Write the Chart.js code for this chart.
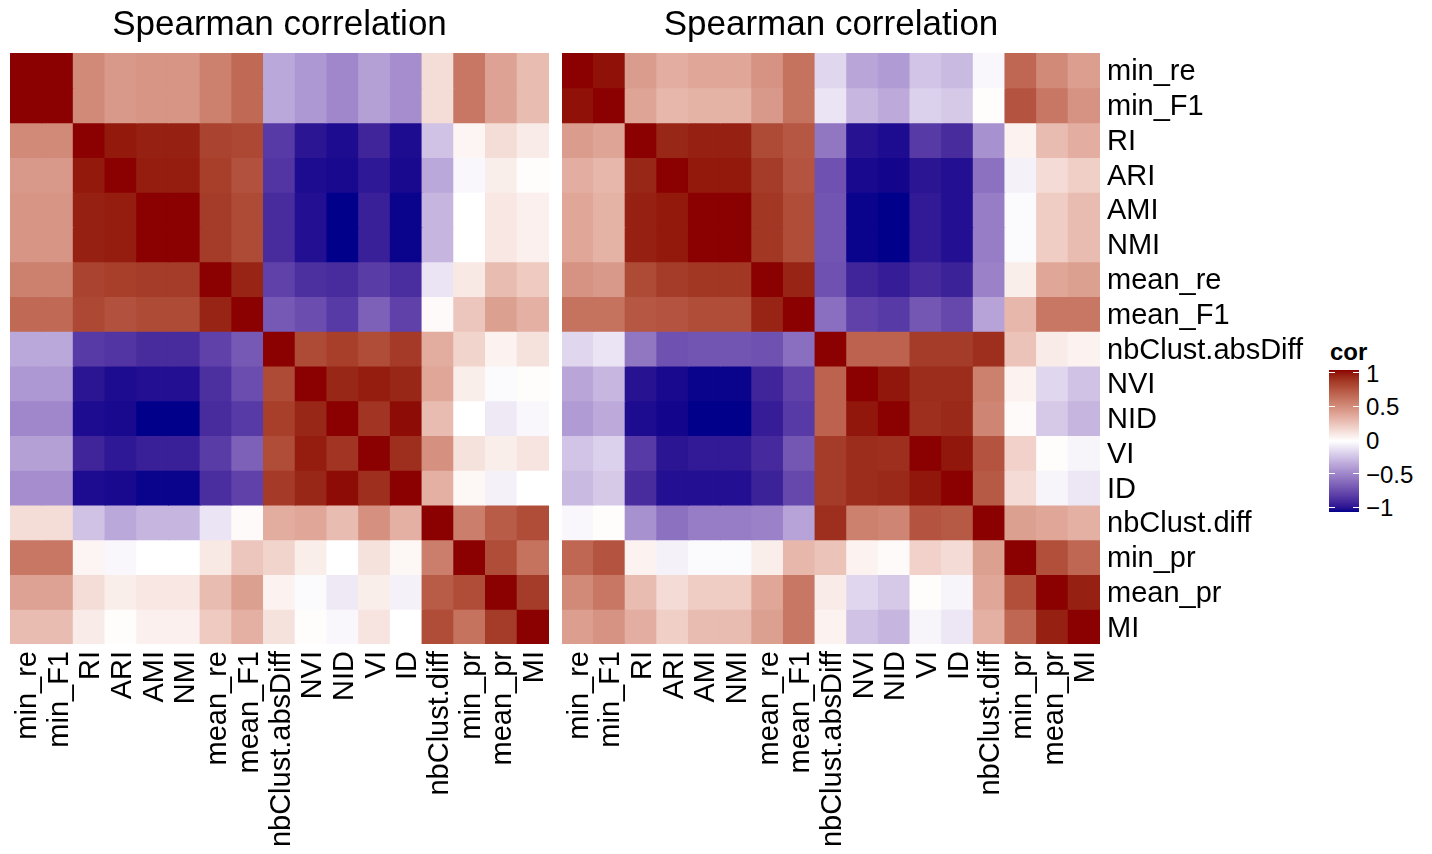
<!DOCTYPE html>
<html>
<head>
<meta charset="utf-8">
<script src="https://cdn.jsdelivr.net/npm/chart.js@4.4.1/dist/chart.umd.min.js"></script>
<style>
  body { margin: 0; background: #fff; }
  #page { position: relative; width: 1432px; height: 854px; overflow: hidden; font-family: "Liberation Sans", Arial, sans-serif; }
  #leftChart { position: absolute; left: 0; top: 0; }
  #rightChart { position: absolute; left: 556px; top: 0; }
  .leg { position: absolute; line-height: 1; color: #000; white-space: nowrap; }
</style>
</head>
<body>
<div id="page">
  <canvas id="leftChart" width="556" height="854"></canvas>
  <canvas id="rightChart" width="770" height="854"></canvas>
  <div id="legend"></div>
</div>
<script>
const labels = ['min_re', 'min_F1', 'RI', 'ARI', 'AMI', 'NMI', 'mean_re', 'mean_F1', 'nbClust.absDiff',
  'NVI', 'NID', 'VI', 'ID', 'nbClust.diff', 'min_pr', 'mean_pr', 'MI'];

// left panel (rows top to bottom, same order as labels)
const corLeft = [
  [1, 1, 0.50, 0.43, 0.45, 0.45, 0.54, 0.64, -0.33, -0.39, -0.46, -0.36, -0.43, 0.14, 0.58, 0.39, 0.28],
  [1, 1, 0.50, 0.43, 0.45, 0.45, 0.54, 0.64, -0.33, -0.39, -0.46, -0.36, -0.43, 0.14, 0.58, 0.39, 0.28],
  [0.50, 0.50, 1, 0.95, 0.93, 0.93, 0.80, 0.78, -0.78, -0.93, -0.96, -0.87, -0.96, -0.23, 0.04, 0.14, 0.08],
  [0.43, 0.43, 0.95, 1, 0.94, 0.94, 0.82, 0.74, -0.80, -0.96, -0.97, -0.92, -0.97, -0.33, -0.03, 0.07, 0.01],
  [0.45, 0.45, 0.93, 0.94, 1, 1, 0.83, 0.77, -0.84, -0.95, -1, -0.89, -0.99, -0.28, 0.00, 0.10, 0.06],
  [0.45, 0.45, 0.93, 0.94, 1, 1, 0.83, 0.77, -0.84, -0.95, -1, -0.89, -0.99, -0.28, 0.00, 0.10, 0.06],
  [0.54, 0.54, 0.80, 0.82, 0.83, 0.83, 1, 0.92, -0.75, -0.82, -0.84, -0.77, -0.83, -0.10, 0.09, 0.28, 0.22],
  [0.64, 0.64, 0.78, 0.74, 0.77, 0.77, 0.92, 1, -0.65, -0.70, -0.78, -0.62, -0.75, 0.02, 0.24, 0.40, 0.33],
  [-0.33, -0.33, -0.78, -0.80, -0.84, -0.84, -0.75, -0.65, 1, 0.77, 0.82, 0.76, 0.84, 0.35, 0.18, 0.05, 0.12],
  [-0.39, -0.39, -0.93, -0.96, -0.95, -0.95, -0.82, -0.70, 0.77, 1, 0.91, 0.94, 0.91, 0.37, 0.07, -0.02, 0.01],
  [-0.46, -0.46, -0.96, -0.97, -1, -1, -0.84, -0.78, 0.82, 0.91, 1, 0.86, 0.98, 0.28, 0.00, -0.08, -0.03],
  [-0.36, -0.36, -0.87, -0.92, -0.89, -0.89, -0.77, -0.62, 0.76, 0.94, 0.86, 1, 0.88, 0.47, 0.12, 0.07, 0.11],
  [-0.43, -0.43, -0.96, -0.97, -0.99, -0.99, -0.83, -0.75, 0.84, 0.91, 0.98, 0.88, 1, 0.33, 0.03, -0.05, 0.00],
  [0.14, 0.14, -0.23, -0.33, -0.28, -0.28, -0.10, 0.02, 0.35, 0.37, 0.28, 0.47, 0.33, 1, 0.55, 0.70, 0.76],
  [0.58, 0.58, 0.04, -0.03, 0.00, 0.00, 0.09, 0.24, 0.18, 0.07, 0.00, 0.12, 0.03, 0.55, 1, 0.76, 0.60],
  [0.39, 0.39, 0.14, 0.07, 0.10, 0.10, 0.28, 0.40, 0.05, -0.02, -0.08, 0.07, -0.05, 0.70, 0.76, 1, 0.83],
  [0.28, 0.28, 0.08, 0.01, 0.06, 0.06, 0.22, 0.33, 0.12, 0.01, -0.03, 0.11, 0.00, 0.76, 0.60, 0.83, 1]
];

// right panel
const corRight = [
  [1, 0.97, 0.42, 0.34, 0.37, 0.37, 0.46, 0.60, -0.15, -0.34, -0.38, -0.22, -0.26, -0.03, 0.65, 0.50, 0.41],
  [0.97, 1, 0.38, 0.30, 0.32, 0.32, 0.43, 0.60, -0.10, -0.27, -0.32, -0.17, -0.20, 0.01, 0.73, 0.58, 0.46],
  [0.42, 0.38, 1, 0.91, 0.93, 0.93, 0.77, 0.72, -0.53, -0.94, -0.96, -0.78, -0.84, -0.42, 0.05, 0.28, 0.34],
  [0.34, 0.30, 0.91, 1, 0.95, 0.95, 0.83, 0.73, -0.68, -0.97, -0.98, -0.93, -0.95, -0.55, -0.05, 0.15, 0.20],
  [0.37, 0.32, 0.93, 0.95, 1, 1, 0.85, 0.76, -0.67, -0.99, -1, -0.91, -0.95, -0.50, -0.02, 0.21, 0.28],
  [0.37, 0.32, 0.93, 0.95, 1, 1, 0.85, 0.76, -0.67, -0.99, -1, -0.91, -0.95, -0.50, -0.02, 0.21, 0.28],
  [0.46, 0.43, 0.77, 0.83, 0.85, 0.85, 1, 0.92, -0.68, -0.87, -0.90, -0.85, -0.88, -0.48, 0.07, 0.37, 0.40],
  [0.60, 0.60, 0.72, 0.73, 0.76, 0.76, 0.92, 1, -0.56, -0.75, -0.78, -0.66, -0.72, -0.35, 0.30, 0.58, 0.58],
  [-0.15, -0.10, -0.53, -0.68, -0.67, -0.67, -0.68, -0.56, 1, 0.67, 0.67, 0.83, 0.83, 0.88, 0.25, 0.08, 0.05],
  [-0.34, -0.27, -0.94, -0.97, -0.99, -0.99, -0.87, -0.75, 0.67, 1, 0.96, 0.89, 0.89, 0.54, 0.05, -0.15, -0.23],
  [-0.38, -0.32, -0.96, -0.98, -1, -1, -0.90, -0.78, 0.67, 0.96, 1, 0.88, 0.90, 0.52, 0.02, -0.20, -0.28],
  [-0.22, -0.17, -0.78, -0.93, -0.91, -0.91, -0.85, -0.66, 0.83, 0.89, 0.88, 1, 0.96, 0.73, 0.19, 0.01, -0.04],
  [-0.26, -0.20, -0.84, -0.95, -0.95, -0.95, -0.88, -0.72, 0.83, 0.89, 0.90, 0.96, 1, 0.71, 0.15, -0.04, -0.09],
  [-0.03, 0.01, -0.42, -0.55, -0.50, -0.50, -0.48, -0.35, 0.88, 0.54, 0.52, 0.73, 0.71, 1, 0.40, 0.37, 0.33],
  [0.65, 0.73, 0.05, -0.05, -0.02, -0.02, 0.07, 0.30, 0.25, 0.05, 0.02, 0.19, 0.15, 0.40, 1, 0.75, 0.65],
  [0.50, 0.58, 0.28, 0.15, 0.21, 0.21, 0.37, 0.58, 0.08, -0.15, -0.20, 0.01, -0.04, 0.37, 0.75, 1, 0.93],
  [0.41, 0.46, 0.34, 0.20, 0.28, 0.28, 0.40, 0.58, 0.05, -0.23, -0.28, -0.04, -0.09, 0.33, 0.65, 0.93, 1]
];

const legendValues = [1, 0.5, 0, -0.5, -1];
const legendLabels = ['1', '0.5', '0', '\u22120.5', '\u22121'];

const FONT = '"Liberation Sans", Arial, Helvetica, sans-serif';

// gradient low / mid / high, mixed in Lab like ggplot does
function toLin(c) { c /= 255; return c <= 0.04045 ? c / 12.92 : Math.pow((c + 0.055) / 1.055, 2.4); }
function fromLin(c) {
  c = c <= 0.0031308 ? 12.92 * c : 1.055 * Math.pow(c, 1 / 2.4) - 0.055;
  return Math.round(Math.max(0, Math.min(1, c)) * 255);
}
function hexToLab(hex) {
  const r = toLin(parseInt(hex.slice(1, 3), 16));
  const g = toLin(parseInt(hex.slice(3, 5), 16));
  const b = toLin(parseInt(hex.slice(5, 7), 16));
  const X = (0.4124564 * r + 0.3575761 * g + 0.1804375 * b) / 0.95047;
  const Y = 0.2126729 * r + 0.7151522 * g + 0.0721750 * b;
  const Z = (0.0193339 * r + 0.1191920 * g + 0.9503041 * b) / 1.08883;
  const f = t => t > 0.008856 ? Math.cbrt(t) : 7.787 * t + 16 / 116;
  return [116 * f(Y) - 16, 500 * (f(X) - f(Y)), 200 * (f(Y) - f(Z))];
}
function labToRgb(L, a, b) {
  const fy = (L + 16) / 116, fx = fy + a / 500, fz = fy - b / 200;
  const inv = t => t * t * t > 0.008856 ? t * t * t : (t - 16 / 116) / 7.787;
  const X = inv(fx) * 0.95047, Y = inv(fy), Z = inv(fz) * 1.08883;
  const r = 3.2404542 * X - 1.5371385 * Y - 0.4985314 * Z;
  const g = -0.9692660 * X + 1.8760108 * Y + 0.0415560 * Z;
  const bl = 0.0556434 * X - 0.2040259 * Y + 1.0572252 * Z;
  return 'rgb(' + fromLin(r) + ',' + fromLin(g) + ',' + fromLin(bl) + ')';
}
const LAB_LOW = hexToLab('#00008B');
const LAB_MID = hexToLab('#FFFFFF');
const LAB_HIGH = hexToLab('#8B0000');
function corColor(v) {
  const t = Math.min(1, Math.abs(v));
  const end = v < 0 ? LAB_LOW : LAB_HIGH;
  return labToRgb(
    LAB_MID[0] + (end[0] - LAB_MID[0]) * t,
    LAB_MID[1] + (end[1] - LAB_MID[1]) * t,
    LAB_MID[2] + (end[2] - LAB_MID[2]) * t
  );
}

const titlePlugin = {
  id: 'panelTitle',
  afterDraw(chart) {
    const { ctx, chartArea } = chart;
    ctx.save();
    ctx.font = '35px ' + FONT;
    ctx.fillStyle = '#000';
    ctx.textAlign = 'center';
    ctx.textBaseline = 'alphabetic';
    ctx.fillText('Spearman correlation', (chartArea.left + chartArea.right) / 2, 35);
    ctx.restore();
  }
};

function heatmap(id, matrix, showY, padding) {
  const datasets = matrix.map((row, r) => ({
    label: labels[r],
    data: row.map(() => 1),
    backgroundColor: row.map(corColor),
    borderWidth: 0,
    inflateAmount: 0.6,
    barPercentage: 1,
    categoryPercentage: 1
  }));

  return new Chart(document.getElementById(id), {
    type: 'bar',
    data: { labels: labels, datasets: datasets },
    plugins: [titlePlugin],
    options: {
      responsive: false,
      animation: false,
      events: [],
      layout: { padding: padding },
      plugins: {
        legend: { display: false },
        tooltip: { enabled: false }
      },
      scales: {
        x: {
          stacked: true,
          grid: { display: false, drawTicks: false },
          border: { display: false },
          ticks: {
            autoSkip: false,
            minRotation: 90,
            maxRotation: 90,
            padding: 7,
            labelOffset: 2,
            color: '#000',
            font: { family: FONT, size: 29 }
          },
          afterFit: s => {
            s.height = 210;
            s.paddingLeft = 0;
            s.paddingRight = 0;
          }
        },
        y: {
          stacked: true,
          reverse: true,
          min: 0,
          max: 17,
          display: showY,
          position: 'right',
          grid: { display: false, drawTicks: false },
          border: { display: false },
          afterBuildTicks: axis => { axis.ticks = labels.map((l, i) => ({ value: i + 0.5 })); },
          ticks: {
            autoSkip: false,
            padding: 7,
            labelOffset: 2,
            color: '#000',
            font: { family: FONT, size: 29 },
            callback: (v, i) => labels[i]
          },
          afterFit: s => { if (showY) s.width = 226; }
        }
      }
    }
  });
}

heatmap('leftChart', corLeft, false, { left: 10, right: 7, top: 53 });
heatmap('rightChart', corRight, true, { left: 6, right: 0, top: 53 });

// colour bar legend
const legend = document.getElementById('legend');
const barTop = 370, barH = 142, barLeft = 1329, barW = 30;
const tickTop = 372.7, tickSpan = 134.6;
const stops = [];
for (let i = 0; i <= 40; i++) {
  const v = 1 - i / 20;
  stops.push(corColor(v) + ' ' + (i / 40 * 100).toFixed(1) + '%');
}
let html = '<div class="leg" style="left:1330px;top:340px;font-size:24px;font-weight:bold;">cor</div>';
html += '<div style="position:absolute;left:' + barLeft + 'px;top:' + barTop + 'px;width:' + barW + 'px;height:' + barH +
  'px;background:linear-gradient(to bottom,' + stops.join(',') + ');"></div>';
legendValues.forEach((v, i) => {
  const y = tickTop + (1 - v) / 2 * tickSpan;
  html += '<div style="position:absolute;left:' + barLeft + 'px;top:' + (y - 0.5) + 'px;width:6px;height:1.2px;background:#fff;"></div>';
  html += '<div style="position:absolute;left:' + (barLeft + barW - 6) + 'px;top:' + (y - 0.5) + 'px;width:6px;height:1.2px;background:#fff;"></div>';
  html += '<div class="leg" style="left:1366px;top:' + (y - 11) + 'px;font-size:24px;">' + legendLabels[i] + '</div>';
});
legend.innerHTML = html;
</script>
</body>
</html>
